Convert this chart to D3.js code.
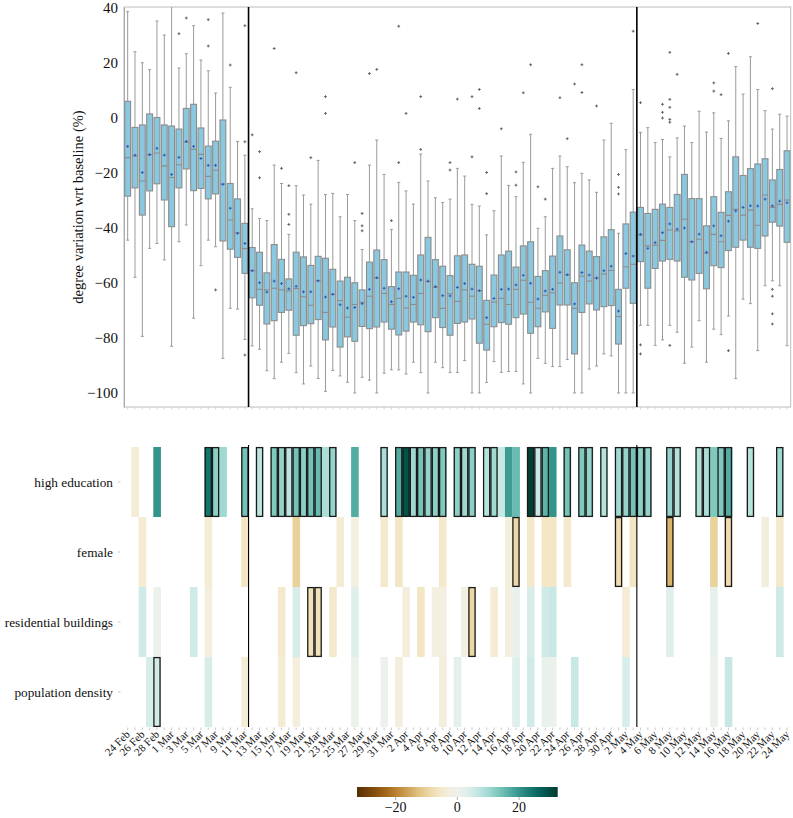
<!DOCTYPE html>
<html><head><meta charset="utf-8">
<script src="https://cdn.jsdelivr.net/npm/d3@7"></script>
<style>body{margin:0;background:#fff;} svg{display:block;font-family:"Liberation Serif","Times New Roman",serif;}</style>
</head><body><svg id="c" width="793" height="818"></svg>
<script>
const days = ["24 Feb","25 Feb","26 Feb","27 Feb","28 Feb","29 Feb",
"1 Mar","2 Mar","3 Mar","4 Mar","5 Mar","6 Mar","7 Mar","8 Mar","9 Mar","10 Mar","11 Mar","12 Mar","13 Mar","14 Mar","15 Mar","16 Mar","17 Mar","18 Mar","19 Mar","20 Mar","21 Mar","22 Mar","23 Mar","24 Mar","25 Mar","26 Mar","27 Mar","28 Mar","29 Mar","30 Mar","31 Mar",
"1 Apr","2 Apr","3 Apr","4 Apr","5 Apr","6 Apr","7 Apr","8 Apr","9 Apr","10 Apr","11 Apr","12 Apr","13 Apr","14 Apr","15 Apr","16 Apr","17 Apr","18 Apr","19 Apr","20 Apr","21 Apr","22 Apr","23 Apr","24 Apr","25 Apr","26 Apr","27 Apr","28 Apr","29 Apr","30 Apr",
"1 May","2 May","3 May","4 May","5 May","6 May","7 May","8 May","9 May","10 May","11 May","12 May","13 May","14 May","15 May","16 May","17 May","18 May","19 May","20 May","21 May","22 May","23 May","24 May"];
const tickDays = ["24 Feb","26 Feb","28 Feb","1 Mar","3 Mar","5 Mar","7 Mar","9 Mar","11 Mar","13 Mar","15 Mar","17 Mar","19 Mar","21 Mar","23 Mar","25 Mar","27 Mar","29 Mar","31 Mar","2 Apr","4 Apr","6 Apr","8 Apr","10 Apr","12 Apr","14 Apr","16 Apr","18 Apr","20 Apr","22 Apr","24 Apr","26 Apr","28 Apr","30 Apr","2 May","4 May","6 May","8 May","10 May","12 May","14 May","16 May","18 May","20 May","22 May","24 May"];
const yTicks = [40,20,0,-20,-40,-60,-80,-100];
const markerDays = ["12 Mar","4 May"];

// box statistics per day
const whiskerLow = [-44.4,-57.9,-79.4,-47.4,-45.6,-51.6,-83.0,-45.0,-38.9,-72.8,
-53.7,-44.4,-46.8,-87.4,-69.2,-69.5,-80.5,-82.9,-84.1,-91.9,
-94.8,-88.8,-85.6,-92.6,-96.7,-90.2,-94.7,-99.4,-91.8,-93.8,
-96.1,-100.0,-94.3,-95.3,-100.0,-92.8,-91.6,-91.6,-93.1,-88.8,
-92.6,-100.0,-88.8,-90.8,-92.6,-92.5,-88.2,-100.0,-100.0,-96.2,
-88.6,-92.5,-92.2,-92.2,-96.7,-100.0,-87.4,-89.2,-90.4,-90.4,
-87.8,-100.0,-100.0,-91.3,-90.2,-85.8,-86.5,-100.0,-100.0,-100.0,
-75.4,-75.4,-82.7,-80.7,-75.4,-77.9,-89.2,-83.3,-73.7,-88.8,
-76.8,-78.8,-72.0,-94.8,-65.9,-67.5,-84.6,-61.0,-59.2,-61.0,
-82.8];
const q1 = [-28.4,-25.4,-35.3,-26.5,-23.9,-29.8,-39.5,-25.4,-18.5,-26.4,
-25.6,-29.4,-27.6,-44.7,-47.7,-50.7,-56.5,-65.4,-68.1,-74.9,
-73.7,-70.7,-69.9,-79.0,-75.5,-74.8,-73.3,-80.7,-76.0,-83.3,
-79.6,-81.2,-75.8,-76.6,-76.0,-74.2,-76.8,-78.9,-77.5,-74.2,
-75.2,-77.7,-72.6,-76.2,-79.0,-74.7,-74.2,-73.1,-81.9,-84.4,
-75.9,-74.4,-75.0,-72.6,-71.3,-78.3,-75.9,-70.5,-76.5,-68.0,
-68.0,-85.8,-70.7,-67.6,-69.8,-68.6,-68.2,-82.2,-61.9,-67.4,
-52.2,-61.9,-54.7,-52.0,-51.4,-52.0,-57.9,-58.9,-56.5,-62.1,
-53.7,-54.4,-48.2,-47.0,-44.4,-47.0,-47.4,-42.9,-37.9,-39.3,
-45.2];
const median = [-14.4,-13.8,-22.9,-13.3,-12.7,-17.4,-21.6,-17.0,-8.8,-11.4,
-13.2,-21.2,-19.0,-24.0,-37.1,-41.7,-47.5,-55.5,-62.3,-62.5,
-61.9,-62.5,-62.9,-62.0,-65.0,-68.1,-59.2,-70.7,-64.1,-66.4,
-72.4,-67.8,-67.0,-64.8,-58.1,-63.8,-67.8,-65.6,-69.1,-67.8,
-63.8,-59.5,-61.6,-69.2,-63.9,-66.7,-62.5,-64.8,-62.8,-75.0,
-66.9,-65.6,-67.8,-62.3,-59.0,-67.0,-69.2,-64.5,-63.6,-60.0,
-57.0,-69.2,-57.5,-59.3,-58.2,-56.7,-55.4,-72.2,-54.1,-53.2,
-42.5,-46.5,-46.2,-44.5,-40.7,-41.1,-36.8,-45.0,-44.1,-49.2,
-42.3,-45.0,-35.4,-33.2,-35.3,-33.5,-39.0,-28.0,-32.5,-31.4,
-29.8];
const q3 = [6.1,-3.4,-2.5,1.5,0.2,-2.5,-2.9,-4.0,3.5,5.0,
-3.6,-10.2,-8.4,-0.7,-23.8,-29.4,-38.3,-47.1,-48.8,-56.3,
-46.0,-51.4,-58.5,-48.8,-50.5,-53.6,-50.3,-51.0,-55.0,-59.3,
-57.9,-59.9,-62.5,-52.4,-48.0,-51.5,-61.3,-56.0,-56.0,-57.2,
-49.8,-43.4,-51.5,-53.9,-57.3,-50.1,-49.8,-53.2,-53.9,-66.3,
-57.1,-49.8,-48.4,-54.2,-46.5,-45.0,-57.6,-55.5,-50.2,-42.9,
-47.9,-59.9,-46.2,-48.4,-50.4,-43.2,-40.6,-62.3,-38.5,-34.2,
-32.5,-34.7,-33.2,-31.3,-32.5,-27.8,-20.5,-29.3,-29.3,-39.2,
-28.6,-34.3,-26.8,-14.1,-20.9,-18.4,-16.7,-14.8,-22.5,-18.7,
-11.9];
const whiskerHigh = [38.7,24.1,20.1,17.6,35.3,30.2,41.0,18.2,23.4,33.6,
21.1,17.2,9.1,38.2,11.2,-8.5,-13.5,-33.0,-36.5,-37.3,
-17.1,-23.8,-42.3,-24.6,-28.0,-31.3,-15.4,-27.8,-27.4,-35.9,
-27.8,-37.3,-47.8,-17.1,-8.0,-20.5,-40.5,-23.4,-26.5,-31.3,
-13.1,-22.9,-29.0,-30.7,-29.5,-18.3,-21.1,-31.4,-32.0,-42.5,
-33.7,-13.8,-24.5,-28.6,-16.1,-5.9,-40.1,-35.9,-18.3,-13.8,
-17.7,-23.5,-20.1,-22.5,-27.0,-8.0,-1.9,-41.9,-11.5,10.4,
-5.2,-3.5,-8.9,-7.8,-14.1,-7.2,-2.9,-8.9,2.5,-5.1,
1.9,-7.4,-1.0,18.7,8.7,22.3,10.4,2.7,-4.0,1.4,
0.7];
const meanVal = [-10.3,-13.5,-19.8,-13.3,-11.0,-13.5,-20.5,-14.3,-8.5,-10.3,
-14.7,-17.2,-17.2,-24.1,-32.8,-41.9,-45.6,-55.5,-59.9,-63.3,
-59.3,-60.2,-62.1,-61.2,-63.2,-63.2,-59.2,-65.1,-64.1,-67.9,
-69.1,-68.9,-67.5,-62.3,-58.1,-61.9,-66.8,-62.1,-64.8,-65.2,
-58.9,-59.3,-61.3,-64.6,-64.7,-61.6,-60.2,-62.2,-62.8,-72.6,
-65.6,-62.3,-62.2,-60.7,-57.2,-60.1,-65.8,-62.9,-62.3,-56.1,
-57.0,-67.6,-56.2,-57.1,-58.2,-55.5,-53.9,-70.2,-49.3,-50.2,
-42.3,-47.4,-45.3,-41.7,-38.5,-40.4,-40.0,-45.0,-42.2,-48.8,
-39.2,-42.8,-37.5,-33.8,-32.5,-31.9,-32.0,-29.5,-31.9,-30.2,
-30.8];
// outliers as [day index, value]
const outliers = [[7,30.7],[8,36.4],[11,35.8],[11,26.2],[12,-62.5],[14,19.3],[16,33.6],[16,-8.6],[16,-86.2],[17,-6.1],
[18,-12.2],[18,-21.7],[20,25.3],[21,-18.3],[22,-38.7],[22,-35.0],[22,-24.6],[23,16.5],[25,-14.4],[27,7.8],[27,1.7],
[31,-16.2],[32,-34.7],[32,-39.2],[32,-41.0],[33,16.2],[34,17.7],[36,-37.3],[37,-16.2],[37,33.4],[38,1.7],[40,-11.4],[40,7.8],
[44,-16.2],[44,-18.9],[45,6.9],[47,7.8],[47,-14.1],[48,10.4],[48,3.5],[49,-19.8],[49,-27.5],[51,-3.9],[53,-19.6],[53,-24.4],
[54,9.2],[55,19.4],[56,-25.0],[57,-29.5],[59,7.4],[60,-7.5],[61,12.4],[62,19.4],[62,9.3],[64,4.4],[67,-20.5],[67,-25.2],[67,-27.6],
[69,31.6],[70,5.6],[70,-82.5],[70,-85.8],[73,5.0],[73,2.1],[73,0.0],[74,-82.7],[74,23.9],[74,6.8],[74,3.9],[74,-0.5],[74,-1.5],
[75,15.9],[80,12.8],[80,9.8],[81,8.5],[82,23.5],[82,-84.6],[86,34.4],[88,10.7],[88,-62.3],[88,-64.8],[88,-71.2],[88,-74.9]];

// heatmap
const rowNames = ["high education","female","residential buildings","population density"];
const highEducation = [null,-4,null,null,20,null,null,null,null,null,
 null,24,12,10,null,null,14,null,7,null,
 13,11,7,14,12,14,15,9,11,null,
 null,17,null,null,null,9,null,17,29,10,
 14,11,12,13,null,12,10,12,null,8,
 10,6,19,15,null,32,6,16,20,null,
 14,null,13,11,null,8,null,10,11,14,
 12,11,null,null,11,8,null,null,8,9,
 13,13,17,null,null,8,null,null,null,10,
 null];
const female = [null,null,-4,null,null,null,null,null,null,null,
 null,-4,null,null,null,null,-6,null,null,null,
 null,null,null,-10,null,null,null,null,null,-4,
 null,-2,null,null,null,-5,null,-6,null,null,
 null,null,null,-5,null,null,null,null,null,null,
 null,null,-3,-9,null,-5,null,-6,-6,null,
 -5,null,null,null,null,null,null,-8,null,-6,
 null,null,null,null,-14,null,null,null,null,null,
 -10,null,-8,null,null,null,null,-3,null,-5,
 null];
const residential = [null,null,5,null,0.5,null,null,null,null,5,
 null,-3,null,null,null,null,null,null,null,null,
 null,-5,null,4,null,-7,-7,null,-5,null,
 null,3,null,null,null,null,null,null,-3,null,
 -6,null,-2,-2,null,null,-2,-9,null,null,
 -4,null,-2,1,null,4,null,5,6,null,
 null,null,null,null,null,null,null,null,-4,null,
 null,null,null,null,3,null,null,null,null,null,
 1.5,null,null,null,null,null,null,null,null,5,
 null];
const popDensity = [null,null,null,4,5,null,null,null,null,null,
 null,4,null,null,null,null,-4,null,null,null,
 null,-4,null,-3,null,null,null,null,null,null,
 null,0.5,null,null,null,0.3,null,-3,null,null,
 null,null,null,-3,null,2,null,null,null,null,
 null,null,null,3,null,5,null,1,0.5,null,
 null,6,null,null,null,null,null,null,4,null,
 null,null,null,null,null,null,null,null,null,null,
 0.5,null,6,null,null,null,null,null,null,null,
 null];
const highEducationSig = [11,12,16,18,20,21,22,23,24,25,26,28,35,37,38,39,40,41,42,43,45,46,47,49,50,55,56,57,60,62,63,65,67,68,69,70,71,74,75,78,79,81,82,85,89];
const femaleSig = [53,67,74,82];
const residentialSig = [25,26,47];
const popDensitySig = [4];
const colorTicks = [-20,0,20];

const rowVals = [highEducation,female,residential,popDensity];
const rowSig = [highEducationSig,femaleSig,residentialSig,popDensitySig];

const svg = d3.select("#c");
const L = 124, R = 790.7;
const x = d3.scaleBand().domain(days).range([L, R]);
const bw = x.bandwidth();
const y = d3.scaleLinear().domain([-105.1, 40.4]).range([407, 7]);

svg.append("defs").append("clipPath").attr("id","pc").append("rect")
  .attr("x",L).attr("y",7).attr("width",R-L).attr("height",400);

// frame
svg.append("rect").attr("x",L).attr("y",7).attr("width",R-L).attr("height",400)
  .attr("fill","none").attr("stroke","#bdbdbd").attr("stroke-width",1);

// y axis
const ya = svg.append("g").attr("transform",`translate(${L},0)`)
  .call(d3.axisLeft(y).tickValues(yTicks).tickSize(0).tickPadding(6).tickFormat(d => d < 0 ? "\u2212"+Math.abs(d) : d));
ya.attr("font-family","Liberation Serif");
ya.select(".domain").attr("stroke","#aaa");
ya.selectAll("text").attr("font-size",15).attr("fill","#111");

// bottom ticks of top panel
svg.append("g").selectAll("line").data(days).join("line")
  .attr("x1",d=>x(d)+bw/2).attr("x2",d=>x(d)+bw/2).attr("y1",407).attr("y2",409.5)
  .attr("stroke","#ccc").attr("stroke-width",0.8);

svg.append("text").attr("transform","translate(83,207) rotate(-90)")
  .attr("text-anchor","middle").attr("font-size",14.5).attr("fill","#111")
  .text("degree variation wrt baseline (%)");

const g = svg.append("g").attr("clip-path","url(#pc)");
const boxW = bw*0.8, capW = 3;
days.forEach((d,i) => {
  const cx = x(d)+bw/2;
  g.append("line").attr("x1",cx).attr("x2",cx).attr("y1",y(q3[i])).attr("y2",y(whiskerHigh[i]))
    .attr("stroke","#9a9a9a").attr("stroke-width",1);
  g.append("line").attr("x1",cx).attr("x2",cx).attr("y1",y(q1[i])).attr("y2",y(whiskerLow[i]))
    .attr("stroke","#9a9a9a").attr("stroke-width",1);
  [whiskerHigh[i],whiskerLow[i]].forEach(v => g.append("line").attr("x1",cx-capW/2).attr("x2",cx+capW/2)
    .attr("y1",y(v)).attr("y2",y(v)).attr("stroke","#9a9a9a").attr("stroke-width",1));
  g.append("rect").attr("x",cx-boxW/2).attr("width",boxW).attr("y",y(q3[i])).attr("height",y(q1[i])-y(q3[i]))
    .attr("fill","#89c8df").attr("stroke","#8c8c8c").attr("stroke-width",1.1);
  g.append("line").attr("x1",cx-boxW/2).attr("x2",cx+boxW/2).attr("y1",y(median[i])).attr("y2",y(median[i]))
    .attr("stroke","#8c8c8c").attr("stroke-width",1.1);
  const my = y(meanVal[i]);
  g.append("path").attr("d",`M${cx-1.4},${my}H${cx+1.4}M${cx},${my-1.4}V${my+1.4}`)
    .attr("stroke","#2a4db5").attr("stroke-width",0.9);
});
outliers.forEach(([i,v]) => {
  const cx = x(days[i])+bw/2, oy = y(v);
  g.append("path").attr("d",`M${cx-1.4},${oy}H${cx+1.4}M${cx},${oy-1.4}V${oy+1.4}`)
    .attr("stroke","#666").attr("stroke-width",1);
});
markerDays.forEach(d => {
  svg.append("line").attr("x1",x(d)).attr("x2",x(d)).attr("y1",7).attr("y2",407)
    .attr("stroke","#000").attr("stroke-width",1.6);
});

// heatmap
const hy = d3.scaleBand().domain(rowNames).range([447, 727]);
const color = d3.scaleDiverging(d3.interpolateBrBG).domain([-32.5,0,32.5]);
const hg = svg.append("g");
rowNames.forEach((r,ri) => {
  rowVals[ri].forEach((v,i) => {
    if (v === null) return;
    hg.append("rect").attr("x",x(days[i])).attr("y",hy(r)).attr("width",bw+0.3).attr("height",hy.bandwidth())
      .attr("fill",color(v));
  });
});
rowNames.forEach((r,ri) => {
  rowSig[ri].forEach(i => {
    hg.append("rect").attr("x",x(days[i])+0.6).attr("y",hy(r)+0.6).attr("width",bw-1.2).attr("height",hy.bandwidth()-1.2)
      .attr("fill","none").attr("stroke","#1a1a1a").attr("stroke-width",1.3);
  });
  svg.append("text").attr("x",113).attr("y",hy(r)+hy.bandwidth()/2).attr("dy","0.35em")
    .attr("text-anchor","end").attr("font-size",13.3).attr("fill","#111").text(r);
  svg.append("line").attr("x1",118).attr("x2",120.5).attr("y1",hy(r)+hy.bandwidth()/2).attr("y2",hy(r)+hy.bandwidth()/2)
    .attr("stroke","#bbb").attr("stroke-width",0.8);
});
markerDays.forEach(d => {
  svg.append("line").attr("x1",x(d)).attr("x2",x(d)).attr("y1",445).attr("y2",727)
    .attr("stroke","#000").attr("stroke-width",1.1);
});
// bottom ticks + labels
svg.append("g").selectAll("line").data(days).join("line")
  .attr("x1",d=>x(d)+bw/2).attr("x2",d=>x(d)+bw/2).attr("y1",727.5).attr("y2",730)
  .attr("stroke","#bbb").attr("stroke-width",0.8);
svg.append("g").selectAll("text").data(tickDays).join("text")
  .attr("transform",d=>`translate(${x(d)+bw/2+3},${735}) rotate(-45)`)
  .attr("text-anchor","end").attr("font-size",11).attr("fill","#111").text(d=>d);

// colorbar
const cbx = d3.scaleLinear().domain([-32.5,32.5]).range([357,557.7]);
const grad = svg.select("defs").append("linearGradient").attr("id","cb");
d3.range(0,1.0001,0.05).forEach(t => grad.append("stop").attr("offset",t).attr("stop-color",color(-32.5+65*t)));
svg.append("rect").attr("x",357).attr("y",787).attr("width",200.7).attr("height",10).attr("fill","url(#cb)");
colorTicks.forEach(t => {
  svg.append("line").attr("x1",cbx(t)).attr("x2",cbx(t)).attr("y1",797).attr("y2",800).attr("stroke","#999").attr("stroke-width",0.8);
  svg.append("text").attr("x",cbx(t)).attr("y",812).attr("text-anchor","middle").attr("font-size",14).attr("fill","#111")
    .text(t < 0 ? "\u2212"+Math.abs(t) : t);
});
</script></body></html>
